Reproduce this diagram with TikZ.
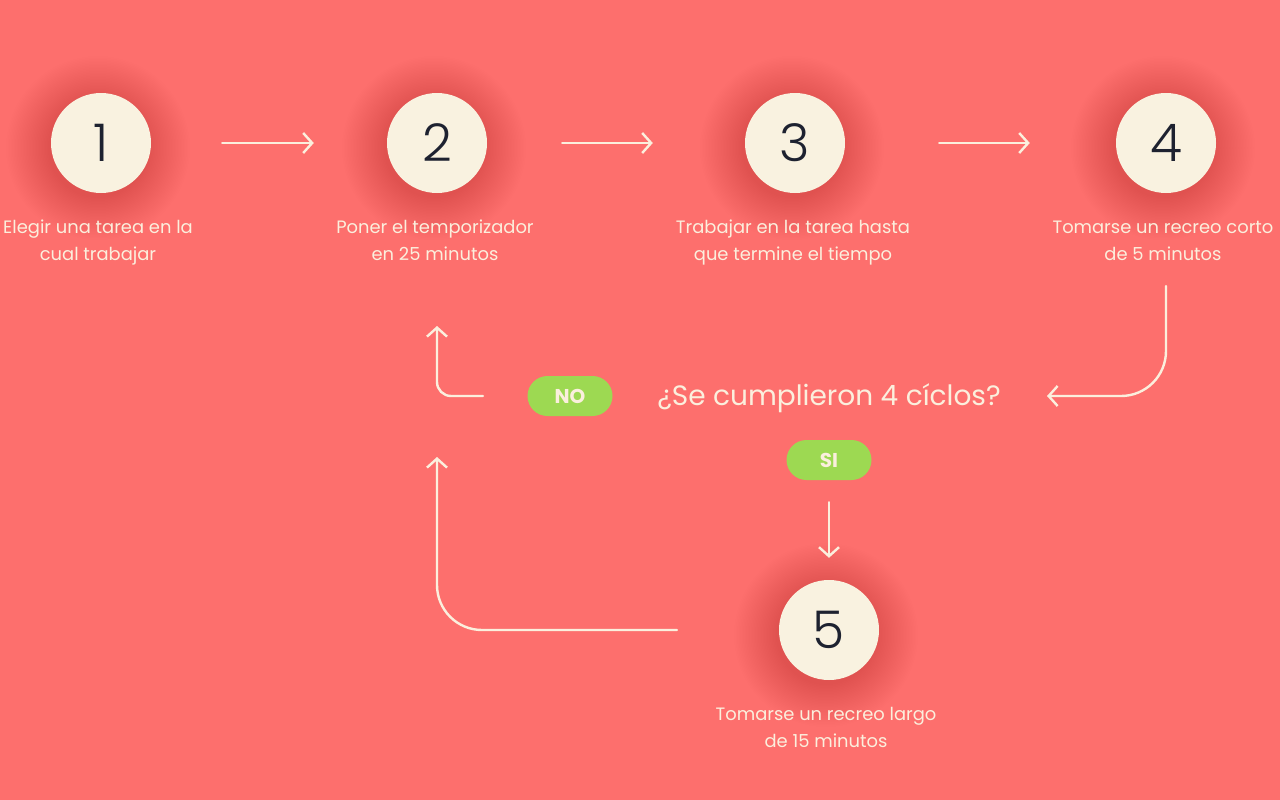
\documentclass[tikz,border=0pt]{standalone}
\usepackage{fontspec}
\setmainfont{Poppins}
\newfontfamily\poplight{Poppins Light}
\usetikzlibrary{arrows.meta}
\pgfdeclarelayer{bglayer}
\pgfdeclarelayer{shadowlayer}
\pgfsetlayers{bglayer,shadowlayer,main}
\definecolor{bg}{HTML}{FD6F6D}
\definecolor{cream}{HTML}{F9F2E0}
\definecolor{ink}{HTML}{1E2230}
\definecolor{lime}{HTML}{9DD952}
\definecolor{linec}{HTML}{FBEFDD}
\tikzset{
  stepcircle/.style={circle, fill=cream, minimum size=100pt, inner sep=0pt,
    font=\poplight\fontsize{52}{52}\selectfont, text=ink},
  steplabel/.style={align=center, text=linec, font=\fontsize{17.9}{27}\selectfont, inner sep=0pt},
  pill/.style={rounded corners=20pt, fill=lime, minimum width=85pt, minimum height=40pt,
    inner sep=0pt, text=linec, font=\bfseries\fontsize{20}{20}\selectfont},
  conn/.style={draw=linec, line width=2.4pt, line cap=round,
    -{Straight Barb[length=9pt,width=20pt,line width=2.4pt]}},
  softshadow/.style={fill=black, opacity=0.0042},
}
\begin{document}
\begin{tikzpicture}[x=1pt,y=-1pt]
\begin{pgfonlayer}{bglayer}
\fill[bg] (0,0) rectangle (1280,800);
\end{pgfonlayer}
\useasboundingbox (0,0) rectangle (1280,800);

\node[stepcircle] (c1) at (101,143) {1};
\node[stepcircle] (c2) at (437,143) {2};
\node[stepcircle] (c3) at (795,143) {3};
\node[stepcircle] (c4) at (1166,143) {4};
\node[stepcircle] (c5) at (829,630) {5};

\begin{pgfonlayer}{shadowlayer}
\foreach \n in {c1,c2,c3,c4,c5}{
  \foreach \r in {50,51.5,...,92}{
    \fill[softshadow] ([xshift=-3pt,yshift=-5pt]\n.center) circle (\r pt);
  }
}
\end{pgfonlayer}

\node[steplabel] (t1) at (98,242.5) {Elegir una tarea en la\\cual trabajar};
\node[steplabel] (t2) at (435,240.5) {Poner el temporizador\\en 25 minutos};
\node[steplabel] (t3) at (793,242.5) {Trabajar en la tarea hasta\\que termine el tiempo};
\node[steplabel] (t4) at (1163,240.5) {Tomarse un recreo corto\\de 5 minutos};
\node[steplabel] (t5) at (826,727.5) {Tomarse un recreo largo\\de 15 minutos};

\node[text=linec, font=\fontsize{28}{28}\selectfont, inner sep=0pt] (q) at (829,398) {¿Se cumplieron 4 cíclos?};
\node[pill] (no) at (570,396) {NO};
\node[pill] (si) at (829,460) {SI};

\draw[conn] ([xshift=71pt]c1.east) -- ([xshift=-73pt]c2.west);
\draw[conn] ([xshift=75pt]c2.east) -- ([xshift=-92pt]c3.west);
\draw[conn] ([xshift=94pt]c3.east) -- ([xshift=-86pt]c4.west);

\coordinate (a4) at (1166,286);
\coordinate (aq) at (1047,396);
\draw[conn, rounded corners=45pt] (a4) |- (aq);

\coordinate (n0) at (483,396);
\coordinate (n1) at (437,326);
\draw[conn, rounded corners=14pt] (n0) -| (n1);

\draw[conn] ([yshift=-22pt]si.south) -- ([yshift=22pt]c5.north);

\coordinate (f0) at (677,630);
\coordinate (f1) at (437,457);
\draw[conn, rounded corners=45pt] (f0) -| (f1);
\end{tikzpicture}
\end{document}
